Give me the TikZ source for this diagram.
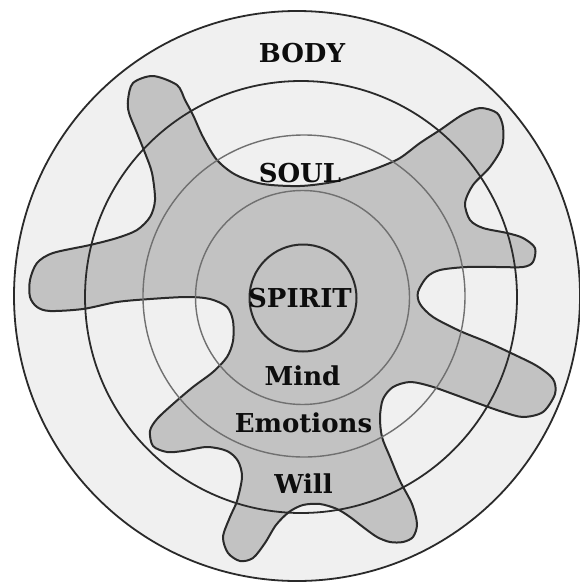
\documentclass[tikz,border=0pt]{standalone}
\usepackage{fontspec}
\setmainfont{DejaVu Serif}
\definecolor{bodyfill}{HTML}{F0F0F0}
\definecolor{blobfill}{HTML}{C2C2C2}
\definecolor{darkline}{HTML}{2A2A2A}
\definecolor{thinline}{HTML}{707070}
\begin{document}
\begin{tikzpicture}[x=1pt,y=-1pt,
  lbl/.style={font=\bfseries\fontsize{26}{30}\selectfont, text=black!95, inner sep=0pt, anchor=base},
  ring/.style={draw=darkline, line width=1.8pt},
  thinring/.style={draw=thinline, line width=1.4pt},
  blob/.style={fill=blobfill, draw=darkline, line width=2pt}]
\fill[white] (0,0) rectangle (580,584);
\useasboundingbox (0,0) rectangle (580,584);
% body disc
\fill[bodyfill] (297,296) ellipse [x radius=283, y radius=285];
% soul blob
\path[blob] plot[smooth cycle, tension=0.5] coordinates {
(153,76) (177,85) (185,100) (193,115) (203,137) (217,160) (236,175) (263,184) (300,186)
(333,182) (357,175) (380,167) (400,158) (420,143) (440,130) (462,115) (480,108) (497,113)
(503,127) (502,147) (490,167) (473,185) (465,203) (470,220) (483,228) (507,233) (523,238)
(535,248) (533,262) (523,267) (497,267) (467,267) (440,270) (427,277) (418,292) (420,304)
(433,317) (460,331) (487,342) (513,354) (537,366) (553,379) (555,394) (543,412) (523,417)
(503,412) (480,404) (453,394) (430,386) (410,382) (393,387) (383,399) (380,417) (382,437)
(390,457) (400,481) (412,504) (417,524) (413,537) (403,542) (390,542) (377,537) (363,527)
(350,517) (337,509) (320,504) (303,505) (289,512) (276,525) (265,543) (253,558) (240,561)
(228,553) (223,537) (230,517) (237,501) (242,477) (238,461) (227,451) (207,447) (183,451)
(167,452) (153,446) (150,431) (157,419) (173,404) (193,387) (213,372) (227,357) (233,341)
(233,321) (227,307) (210,299) (187,297) (150,299) (117,302) (83,309) (50,311) (37,307)
(30,297) (30,280) (37,263) (53,253) (90,245) (117,238) (137,230) (150,217) (155,200)
(152,173) (145,153) (137,133) (129,113) (128,100) (133,83)};
% circles
\draw[ring] (297,296) ellipse [x radius=283, y radius=285];
\draw[ring] (301,297) circle [radius=216];
\draw[thinring] (304,296) circle [radius=161];
\draw[thinring] (302.5,297.5) circle [radius=107];
\draw[ring, line width=2pt] (303,298) circle [radius=53.5];
% labels
\node[lbl] (body) at (302,62) {BODY};
\node[lbl] (soul) at (300,182) {SOUL};
\node[lbl] (spirit) at (300,307) {SPIRIT};
\node[lbl] (mind) at (302.5,385) {Mind};
\node[lbl] (emotions) at (303.5,432) {Emotions};
\node[lbl] (will) at (303.5,493) {Will};
\end{tikzpicture}
\end{document}
